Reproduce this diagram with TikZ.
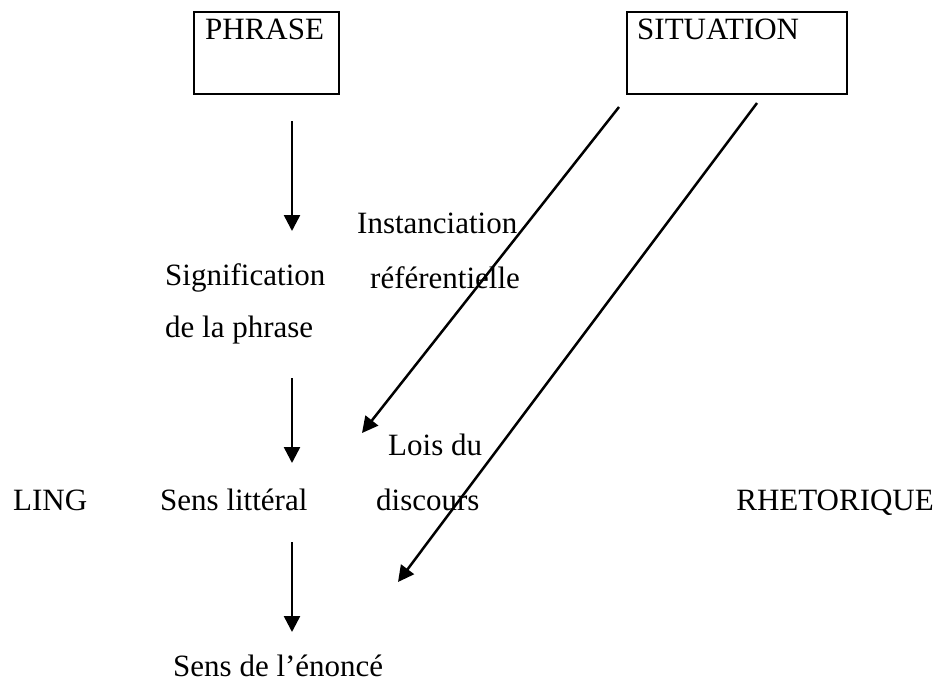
\documentclass[tikz,border=0pt]{standalone}
\usepackage{fontspec}
\setmainfont{Liberation Serif}
\usetikzlibrary{arrows.meta}
\tikzset{
  lbl/.style={anchor=base west, inner sep=0pt, font=\fontsize{31}{37}\selectfont},
  lblr/.style={anchor=base east, inner sep=0pt, font=\fontsize{31}{37}\selectfont},
  box/.style={draw, line width=2pt, anchor=north west, inner sep=0pt},
  arr/.style={line width=2.5pt, -{Triangle[width=16pt,length=16pt]}},
}
\begin{document}
\begin{tikzpicture}[x=1pt,y=-1pt]
\useasboundingbox (0,0) rectangle (936,681);
% boxes
\node[box, minimum width=145pt, minimum height=82pt] (phrasebox) at (193,11) {};
\node[lbl] (phrase) at (205,39) {PHRASE};
\node[box, minimum width=220pt, minimum height=82pt] (sitbox) at (626,11) {};
\node[lbl] (situation) at (637,39) {SITUATION};
% texts
\node[lbl] (inst) at (357,233) {Instanciation};
\node[lbl] (ref) at (370,288) {référentielle};
\node[lbl] (signif) at (165,285) {Signification};
\node[lbl] (delaphrase) at (165,337) {de la phrase};
\node[lbl] (lois) at (388,455) {Lois du};
\node[lbl] (discours) at (376,510) {discours};
\node[lbl] (ling) at (13,510) {LING};
\node[lbl] (sens) at (160,510) {Sens littéral};
\node[lblr] (rhet) at (934,510) {RHETORIQUE};
\node[lbl] (enonce) at (173,676) {Sens de l’énoncé};
% connector end points
\coordinate (v1s) at (292,121);
\coordinate (v1e) at (292,231);
\coordinate (v2s) at (292,378);
\coordinate (v2e) at (292,463);
\coordinate (v3s) at (292,542);
\coordinate (v3e) at (292,632);
\coordinate (d1s) at (619,107);
\coordinate (d1e) at (362,433);
\coordinate (d2s) at (757,103);
\coordinate (d2e) at (398,582);
\draw[arr] (v1s) -- (v1e);
\draw[arr] (v2s) -- (v2e);
\draw[arr] (v3s) -- (v3e);
\draw[arr] (d1s) -- (d1e);
\draw[arr] (d2s) -- (d2e);
\end{tikzpicture}
\end{document}
